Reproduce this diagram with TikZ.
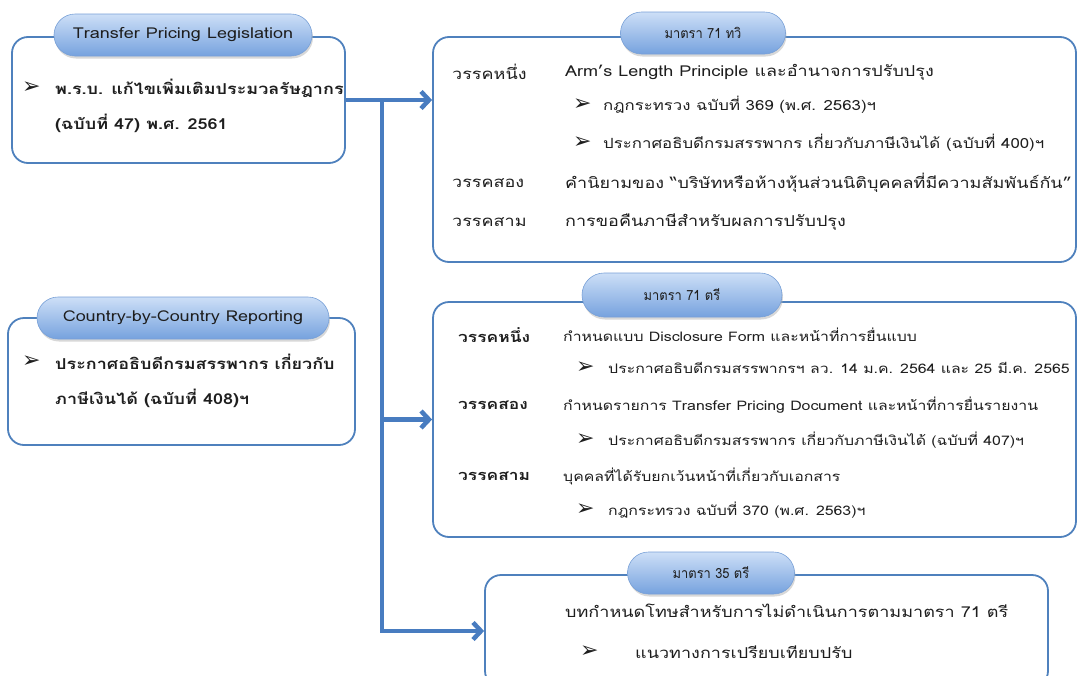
\documentclass[tikz,border=0pt]{standalone}
\usepackage{fontspec}
\setmainfont[Script=Thai, FakeStretch=1.2]{Loma}
\newfontfamily\hdthai[Script=Thai, FakeStretch=0.92]{Loma}
\newfontfamily\symfont{DejaVu Sans}
\usetikzlibrary{arrows.meta,shapes.misc,shadows}

\definecolor{boxblue}{RGB}{79,129,189}
\definecolor{linkblue}{RGB}{72,124,192}
\definecolor{pilltop}{RGB}{205,223,247}
\definecolor{pillbot}{RGB}{118,162,222}
\definecolor{pilledge}{RGB}{120,160,215}
\definecolor{inktext}{RGB}{30,30,30}

\newcommand{\bul}{{\symfont\fontsize{22}{22}\selectfont ➢}}

\begin{document}
\begin{tikzpicture}[x=1pt, y=-1pt,
  panel/.style={draw=boxblue, line width=1.8pt, rounded corners=16pt, fill=white, inner sep=0pt},
  pill/.style={rounded rectangle, draw=pilledge, line width=0.6pt, top color=pilltop, bottom color=pillbot,
    drop shadow={shadow xshift=1pt, shadow yshift=-2.5pt, fill=black!30}, minimum height=42pt,
    inner sep=0pt, text=inktext, font=\fontsize{15}{17}\selectfont},
  thaipill/.style={pill, font=\hdthai\fontsize{14}{16}\selectfont},
  item/.style={anchor=west, inner sep=0pt, text=inktext},
  bigtxt/.style={item, font=\fontsize{15}{18}\selectfont\bfseries},
  midtxt/.style={item, font=\fontsize{15}{17}\selectfont},
  smltxt/.style={item, font=\fontsize{14}{16}\selectfont},
  tertxt/.style={item, font=\fontsize{13.2}{16}\selectfont},
  terlbl/.style={item, font=\fontsize{14.5}{16}\selectfont\bfseries},
  flow/.style={-{Straight Barb[length=8pt, width=17pt, line width=4.5pt]}, line width=4.5pt, draw=linkblue}
]
\useasboundingbox (0,0) rectangle (1079,675);

% panels
\node[panel, minimum width=333pt, minimum height=126pt] (tpl) at (178.5,100) {};
\node[panel, minimum width=347pt, minimum height=127pt] (cbc) at (181.5,381.5) {};
\node[panel, minimum width=643pt, minimum height=225pt] (s71bis) at (754.5,149.5) {};
\node[panel, minimum width=643pt, minimum height=235pt] (s71ter) at (754.5,419.5) {};
\node[panel, minimum width=563pt, minimum height=112pt] (s35ter) at (766.5,631) {};

% connectors
\coordinate (fork) at (382,100);
\draw[flow] (tpl.east) -- (tpl.east -| s71bis.west);
\draw[flow] (fork) |- (s71ter.west);
\draw[flow] (fork) |- (s35ter.west);

% headers
\node[pill, minimum width=258pt] (tplhead) at (183,35) {Transfer Pricing Legislation};
\node[pill, minimum width=292pt] (cbchead) at (183,318) {Country-by-Country Reporting};
\node[thaipill, minimum width=165pt] (bishead) at (703,33) {มาตรา 71 ทวิ};
\node[thaipill, minimum width=200pt, minimum height=44pt] (terhead) at (682,295) {มาตรา 71 ตรี};
\node[thaipill, minimum width=167pt] (s35head) at (711,573) {มาตรา 35 ตรี};

% Transfer Pricing Legislation
\node[bigtxt] (tplbul) at (22,88) {\bul};
\node[bigtxt] (tplln1) at (55,88) {พ.ร.บ. แก้ไขเพิ่มเติมประมวลรัษฎากร};
\node[bigtxt] (tplln2) at (55,123) {(ฉบับที่ 47) พ.ศ. 2561};

% Country-by-Country Reporting
\node[bigtxt] (cbcbul) at (22,362) {\bul};
\node[bigtxt] (cbcln1) at (55,362) {ประกาศอธิบดีกรมสรรพากร เกี่ยวกับ};
\node[bigtxt] (cbcln2) at (55,398) {ภาษีเงินได้ (ฉบับที่ 408)ฯ};

% มาตรา 71 ทวิ
\node[midtxt] (bisp1) at (452,72) {วรรคหนึ่ง};
\node[midtxt] (bist1) at (565,72) {Arm’s Length Principle และอำนาจการปรับปรุง};
\node[smltxt] (bisb1) at (573,105) {\bul};
\node[smltxt] (bisr1) at (603,105) {กฎกระทรวง ฉบับที่ 369 (พ.ศ. 2563)ฯ};
\node[smltxt] (bisb2) at (573,143) {\bul};
\node[smltxt] (bisr2) at (603,143) {ประกาศอธิบดีกรมสรรพากร เกี่ยวกับภาษีเงินได้ (ฉบับที่ 400)ฯ};
\node[midtxt] (bisp2) at (452,183) {วรรคสอง};
\node[midtxt] (bist2) at (565,183) {คำนิยามของ “บริษัทหรือห้างหุ้นส่วนนิติบุคคลที่มีความสัมพันธ์กัน”};
\node[midtxt] (bisp3) at (452,222) {วรรคสาม};
\node[midtxt] (bist3) at (565,222) {การขอคืนภาษีสำหรับผลการปรับปรุง};

% มาตรา 71 ตรี
\node[terlbl] (terp1) at (458,335) {วรรคหนึ่ง};
\node[tertxt] (tert1) at (563,335) {กำหนดแบบ Disclosure Form และหน้าที่การยื่นแบบ};
\node[tertxt] (terb1) at (576,368) {\bul};
\node[tertxt] (terr1) at (608,368) {ประกาศอธิบดีกรมสรรพากรฯ ลว. 14 ม.ค. 2564 และ 25 มี.ค. 2565};
\node[terlbl] (terp2) at (458,405) {วรรคสอง};
\node[tertxt] (tert2) at (563,405) {กำหนดรายการ Transfer Pricing Document และหน้าที่การยื่นรายงาน};
\node[tertxt] (terb2) at (576,440) {\bul};
\node[tertxt] (terr2) at (608,440) {ประกาศอธิบดีกรมสรรพากร เกี่ยวกับภาษีเงินได้ (ฉบับที่ 407)ฯ};
\node[terlbl] (terp3) at (458,476) {วรรคสาม};
\node[tertxt] (tert3) at (563,476) {บุคคลที่ได้รับยกเว้นหน้าที่เกี่ยวกับเอกสาร};
\node[tertxt] (terb3) at (576,510) {\bul};
\node[tertxt] (terr3) at (608,510) {กฎกระทรวง ฉบับที่ 370 (พ.ศ. 2563)ฯ};

% มาตรา 35 ตรี
\node[midtxt] (pent1) at (565,611) {บทกำหนดโทษสำหรับการไม่ดำเนินการตามมาตรา 71 ตรี};
\node[midtxt] (penb1) at (580,652) {\bul};
\node[midtxt] (penr1) at (635,652) {แนวทางการเปรียบเทียบปรับ};
\end{tikzpicture}
\end{document}
